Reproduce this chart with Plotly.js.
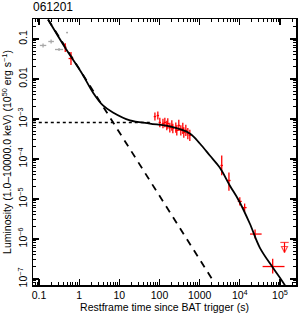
<!DOCTYPE html>
<html><head><meta charset="utf-8">
<script src="https://cdn.plot.ly/plotly-3.0.1.min.js"></script>
<style>html,body{margin:0;padding:0;background:#fff}#chart{width:300px;height:315px}</style>
</head><body><div id="chart"></div>
<script>
const grbName = '061201';

// BAT points (gray): time (s), luminosity, errors in dex
const batT = [0.126, 0.20, 0.315, 0.50];
const batL = [0.069, 0.0866, 0.0546, 0.145];
const batTErr = [0.08, 0.07, 0.10, 0.02];
const batLErr = [0.05, 0.05, 0.04, 0.02];

// XRT points (red): time (s), luminosity, errors in dex
const xrtT = [0.45, 0.625,
  77, 91, 102, 122, 136, 152, 161, 181, 203, 215, 255, 270, 303, 340, 381, 403, 453, 508, 570];
const xrtL = [0.061, 0.0325,
  1.15e-3, 1.22e-3, 8.2e-4, 7.7e-4, 8.2e-4, 6.9e-4, 7.7e-4, 6.1e-4, 6.9e-4, 5.8e-4, 6.1e-4, 5.2e-4, 6.9e-4, 5.2e-4, 5.8e-4, 4.6e-4, 5.2e-4, 4.3e-4, 3.9e-4];
const xrtTErr = [0.03, 0.06,
  0.03, 0.03, 0.03, 0.03, 0.03, 0.03, 0.03, 0.03, 0.03, 0.03, 0.03, 0.03, 0.03, 0.03, 0.03, 0.03, 0.03, 0.03, 0.03];
const xrtLErr = [0.11, 0.16,
  0.10, 0.10, 0.12, 0.12, 0.12, 0.12, 0.13, 0.12, 0.13, 0.12, 0.13, 0.13, 0.14, 0.13, 0.14, 0.13, 0.14, 0.14, 0.14];

// late XRT points (red): explicit bounds
const lateT   = [3550, 5370, 1.0e4, 1.32e4, 2.4e4, 6.6e4];
const lateTLo = [3300, 4900, 0.89e4, 1.18e4, 1.8e4, 3.7e4];
const lateTHi = [3800, 5900, 1.12e4, 1.48e4, 3.5e4, 1.3e5];
const lateL   = [6.9e-5, 2.9e-5, 8.7e-6, 6.1e-6, 1.33e-6, 2.05e-7];
const lateLLo = [3.9e-5, 1.6e-5, 6.9e-6, 4.8e-6, 1.03e-6, 1.38e-7];
const lateLHi = [1.23e-4, 4.6e-5, 1.1e-5, 7.7e-6, 1.72e-6, 3.2e-7];

// upper limit
const ulT = [1.3e5, 1.3e5];
const ulL = [8.2e-7, 4.6e-7];

// model curve (solid)
const modelT = [0.168, 0.444, 1.175, 2.20, 3.91, 6.93, 18.4, 57.7, 181, 570, 1010, 1795, 3170, 5630, 9440, 17740, 31450, 66300, 1.11e5, 1.39e5];
const modelL = [0.307, 0.0613, 0.01373, 4.6e-3, 2.18e-3, 1.45e-3, 9.2e-4, 7.7e-4, 6.5e-4, 4.34e-4, 2.44e-4, 1.22e-4, 6.1e-5, 2.18e-5, 9.2e-6, 2.44e-6, 6.1e-7, 1.94e-7, 9.2e-8, 6.5e-8];

// steep decay component (dashed)
const steepT = [0.168, 2000];
const steepL = [0.307, 1.03e-7];

// plateau level (dotted)
const platT = [0.07, 65];
const platL = [8.2e-4, 8.2e-4];

const xTickVals = [0.1, 1, 10, 100, 1000, 1e4, 1e5];
const xTickText = ['0.1', '1', '10', '100', '1000', '10<sup>4</sup>', '10<sup>5</sup>'];
const yTickVals = [0.1, 0.01, 1e-3, 1e-4, 1e-5, 1e-6, 1e-7];
const yTickText = ['0.1', '0.01', '10<sup>−3</sup>', '10<sup>−4</sup>', '10<sup>−5</sup>', '10<sup>−6</sup>', '10<sup>−7</sup>'];

function plus(v, e) { return v.map((x, i) => x * (Math.pow(10, e[i]) - 1)); }
function minus(v, e) { return v.map((x, i) => x * (1 - Math.pow(10, -e[i]))); }

const font = 'Liberation Sans, Arial, sans-serif';

const traces = [
  {x: platT, y: platL, mode: 'lines', line: {color: 'black', width: 1.5, dash: 'dot'}, hoverinfo: 'skip'},
  {x: steepT, y: steepL, mode: 'lines', line: {color: 'black', width: 1.8, dash: '7px,6px'}, hoverinfo: 'skip'},
  {x: batT, y: batL, mode: 'markers', marker: {size: 1, color: '#a8a8a8'},
   error_x: {type: 'data', symmetric: false, array: plus(batT, batTErr), arrayminus: minus(batT, batTErr), color: '#a8a8a8', thickness: 1.3, width: 0},
   error_y: {type: 'data', symmetric: false, array: plus(batL, batLErr), arrayminus: minus(batL, batLErr), color: '#a8a8a8', thickness: 1.3, width: 0}},
  {x: xrtT, y: xrtL, mode: 'markers', marker: {size: 1, color: 'red'},
   error_x: {type: 'data', symmetric: false, array: plus(xrtT, xrtTErr), arrayminus: minus(xrtT, xrtTErr), color: 'red', thickness: 1.3, width: 0},
   error_y: {type: 'data', symmetric: false, array: plus(xrtL, xrtLErr), arrayminus: minus(xrtL, xrtLErr), color: 'red', thickness: 1.3, width: 0}},
  {x: lateT, y: lateL, mode: 'markers', marker: {size: 1, color: 'red'},
   error_x: {type: 'data', symmetric: false, array: lateTHi.map((v, i) => v - lateT[i]), arrayminus: lateTLo.map((v, i) => lateT[i] - v), color: 'red', thickness: 1.3, width: 0},
   error_y: {type: 'data', symmetric: false, array: lateLHi.map((v, i) => v - lateL[i]), arrayminus: lateLLo.map((v, i) => lateL[i] - v), color: 'red', thickness: 1.3, width: 0}},
  {x: ulT, y: ulL, mode: 'lines+markers', line: {color: 'red', width: 1.2},
   marker: {symbol: ['line-ew-open', 'arrow-down-open'], size: [6, 6], color: 'red', line: {color: 'red', width: 1.2}}},
  {x: modelT, y: modelL, mode: 'lines', line: {color: 'black', width: 1.8, shape: 'spline', smoothing: 1}, hoverinfo: 'skip'}
];

const axisCommon = {
  type: 'log', showline: true, linecolor: 'black', linewidth: 1.5, mirror: 'allticks',
  ticks: 'inside', ticklen: 6, tickwidth: 1.2, tickcolor: 'black', showgrid: false, zeroline: false,
  tickfont: {family: font, size: 10.5, color: 'black'},
  minor: {ticks: 'inside', ticklen: 3, tickwidth: 1, tickcolor: 'black', dtick: 'D1', showgrid: false}
};

const layout = {
  width: 300, height: 315,
  margin: {l: 33, r: 4, t: 19, b: 30},
  paper_bgcolor: 'white', plot_bgcolor: 'white',
  showlegend: false,
  font: {family: font, color: 'black'},
  title: {text: grbName, font: {family: font, size: 12, color: 'black'}, xref: 'paper', x: 0, xanchor: 'left', yref: 'container', y: 0.993, yanchor: 'top'},
  xaxis: Object.assign({}, axisCommon, {
    range: [-1.15, 5.4], tickmode: 'array', tickvals: xTickVals, ticktext: xTickText,
    title: {text: 'Restframe time since BAT trigger (s)', font: {family: font, size: 10.5, color: 'black'}, standoff: 2}
  }),
  yaxis: Object.assign({}, axisCommon, {
    range: [-7.15, -0.5], tickmode: 'array', tickvals: yTickVals, ticktext: yTickText, tickangle: -90,
    title: {text: 'Luminosity (1.0–10000.0 keV) (10<sup>50</sup> erg s<sup>−1</sup>)', font: {family: font, size: 10.5, color: 'black'}, standoff: 2}
  })
};

Plotly.newPlot('chart', traces, layout, {staticPlot: true, displayModeBar: false});
</script>
</body></html>
